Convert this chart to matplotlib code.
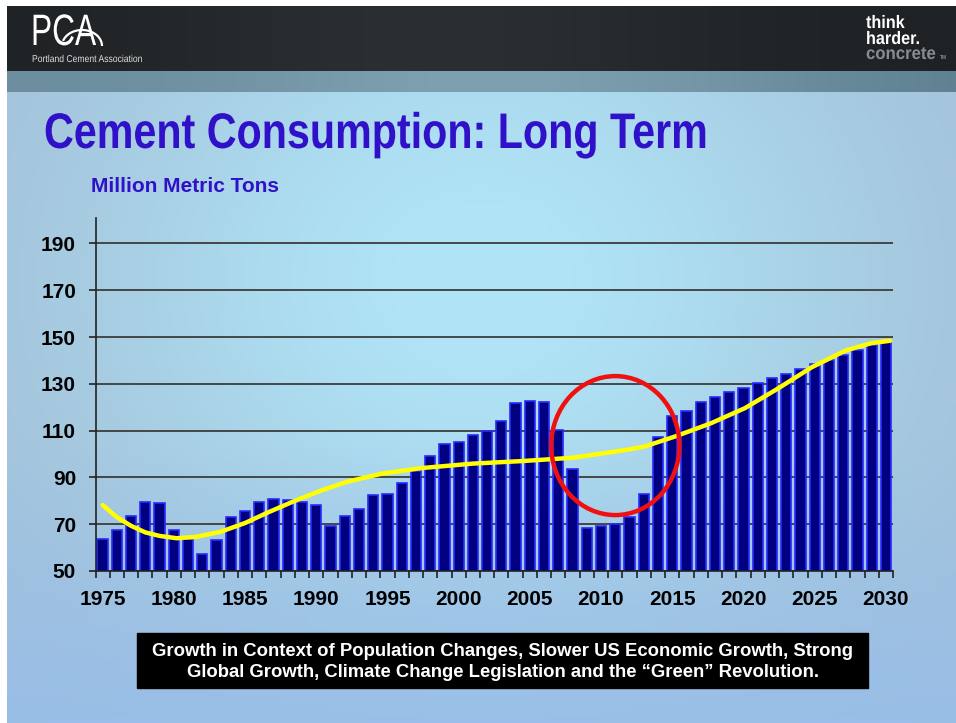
import matplotlib
matplotlib.use('Agg')
import matplotlib.pyplot as plt
import numpy as np
from matplotlib.patches import Ellipse, Rectangle, Arc, PathPatch
from matplotlib.textpath import TextPath
from matplotlib.font_manager import FontProperties
from matplotlib.transforms import Affine2D

# --- data: cement consumption, million metric tons ---
years = list(range(1975, 2031))
consumption = [63.6, 67.4, 73.4, 79.3, 79.0, 67.4, 63.6, 57.1, 63.1, 73.1,
               75.7, 79.6, 80.7, 80.4, 79.3, 78.0, 69.3, 73.4, 76.6, 82.3,
               82.9, 87.6, 92.9, 99.3, 104.3, 105.3, 108.1, 109.7, 113.9, 121.7,
               122.7, 122.1, 110.4, 93.7, 68.4, 69.1, 70.0, 73.1, 83.1, 107.1,
               116.1, 118.3, 122.4, 124.3, 126.3, 128.4, 130.3, 132.3, 134.3, 136.3,
               138.3, 140.3, 142.4, 144.3, 146.4, 148.3]

# long term trend line (yellow)
trend_years = [1975.0, 1976.0, 1977.0, 1978.0, 1979.0, 1980.2, 1981.6, 1983.3, 1985.0,
               1986.6, 1988.5, 1990.4, 1992.2, 1994.6, 1997.4, 2001.0, 2004.5,
               2008.0, 2011.6, 2013.0, 2015.2, 2017.7, 2020.1, 2022.4, 2024.8,
               2027.2, 2029.0, 2030.3]
trend_values = [78.2, 73.0, 69.3, 66.5, 65.0, 64.0, 64.6, 66.8, 70.5,
                75.0, 80.0, 84.5, 88.2, 91.6, 94.0, 95.9, 97.0,
                98.4, 101.6, 103.1, 107.5, 113.1, 119.6, 127.9, 137.1,
                144.3, 147.4, 148.4]

y_ticks = [50, 70, 90, 110, 130, 150, 170, 190]
x_labels = [1975, 1980, 1985, 1990, 1995, 2000, 2005, 2010, 2015, 2020, 2025, 2030]

# highlighted recession area (red ellipse), centre year/value and size
circle_center = (2011.0, 103.6)
circle_size = (9.0, 59.4)

title = 'Cement Consumption: Long Term'
unit_label = 'Million Metric Tons'
note = ('Growth in Context of Population Changes, Slower US Economic Growth, Strong\n'
        'Global Growth, Climate Change Legislation and the \u201cGreen\u201d Revolution.')

W, H = 956, 723
fig = plt.figure(figsize=(W / 100, H / 100), dpi=100, facecolor='white')

# background axes in pixel coordinates
bg = fig.add_axes([0, 0, 1, 1])
bg.set_xlim(0, W)
bg.set_ylim(H, 0)
bg.axis('off')

xx, yy = np.meshgrid(np.linspace(0, 1, 240), np.linspace(0, 1, 180))
c_center = np.array([176, 229, 247]) / 255
c_edge = np.array([162, 190, 214]) / 255
c_bottom = np.array([150, 190, 236]) / 255
w = np.exp(-((xx - 0.5) / 0.42) ** 2 - ((yy - 0.3) / 0.55) ** 2)[..., None]
img = c_edge * (1 - w) + c_center * w
b = (np.clip((yy - 0.55) / 0.45, 0, 1) * 0.75)[..., None]
img = img * (1 - b) + c_bottom * b
bg.imshow(img, extent=[7, W, H, 92], aspect='auto', zorder=0)

# header bars
hx = np.linspace(0, 1, 300)
dark = np.array([30, 34, 37]) / 255 + 0.05 * np.exp(-((hx - 0.45) / 0.3) ** 2)[:, None]
bg.imshow(dark[None, :, :], extent=[7, W, 71, 6], aspect='auto', zorder=0)
band = (np.array([108, 142, 158]) / 255 + 0.07 * np.exp(-((hx - 0.5) / 0.25) ** 2)[:, None]
        - 0.05 * np.clip((hx - 0.75) / 0.25, 0, 1)[:, None])
bg.imshow(np.clip(band, 0, 1)[None, :, :], extent=[7, W, 92, 71], aspect='auto', zorder=0)


def squeezed_text(x, y, s, size, sx, color, weight='bold'):
    # condensed text: glyph outline scaled horizontally
    tp = TextPath((0, 0), s, size=size,
                  prop=FontProperties(family='Liberation Sans', weight=weight))
    tr = Affine2D().scale(sx, -1).translate(x, y) + bg.transData
    bg.add_patch(PathPatch(tp, transform=tr, facecolor=color, edgecolor='none', zorder=3))


# logos
squeezed_text(31, 45, 'PCA', 44, 0.72, 'white', weight='normal')
bg.add_patch(Arc((82, 46), 40, 32, theta1=195, theta2=360, color='white', lw=1.6, zorder=4))
squeezed_text(32, 62, 'Portland Cement Association', 10, 0.86, '#dddddd', weight='normal')
squeezed_text(866, 28, 'think', 18, 0.9, 'white')
squeezed_text(866, 44, 'harder.', 18, 0.9, 'white')
squeezed_text(866, 59, 'concrete', 18, 0.93, '#8a8d90')
bg.text(940, 59, 'TM', color='#8a8d90', fontsize=3.5, fontweight='bold',
        family='Liberation Sans', va='baseline')

# titles
squeezed_text(44, 148, title, 50, 0.825, '#3010c8')
bg.text(91, 192, unit_label, color='#3010c8', fontsize=15, fontweight='bold',
        family='Liberation Sans', va='baseline')

# bottom note
bg.add_patch(Rectangle((137, 633), 731, 55, color='black', zorder=2))
bg.text(503, 662, note, color='white', fontsize=13.3, fontweight='bold',
        family='Liberation Sans', ha='center', va='center', linespacing=1.35, zorder=3)

# --- chart ---
ax = fig.add_axes([95.5 / W, (H - 571) / H, (893 - 95.5) / W, (571 - 217.7) / H])
ax.patch.set_alpha(0)

ax.bar(years, consumption, width=0.72, color='#000080', edgecolor='#2a2aff',
       linewidth=1.2, zorder=2)
ax.plot(trend_years, trend_values, color='#ffff00', lw=3.2, solid_capstyle='round',
        solid_joinstyle='round', zorder=3)
ax.add_patch(Ellipse(circle_center, circle_size[0], circle_size[1], fill=False,
                     edgecolor='#f01010', lw=3.2, zorder=4))

ax.set_xlim(1974.5, 2030.5)
ax.set_ylim(50, 201)
ax.set_yticks(y_ticks)
ax.set_xticks(x_labels)
ax.set_xticks(np.arange(1974.5, 2031, 1), minor=True)
ax.grid(axis='y', color='#3c3c3c', lw=1.3, zorder=0)
ax.set_axisbelow(True)

for lab in ax.get_xticklabels() + ax.get_yticklabels():
    lab.set_fontfamily('Liberation Sans')
    lab.set_fontweight('bold')
    lab.set_fontsize(15)
ax.tick_params(axis='x', which='major', length=0, pad=14)
ax.tick_params(axis='x', which='minor', length=5, width=1.2, color='#222222')
ax.tick_params(axis='y', length=5, width=1.2, color='#222222', pad=9)

for s in ['top', 'right']:
    ax.spines[s].set_visible(False)
for s in ['left', 'bottom']:
    ax.spines[s].set_color('#222222')
    ax.spines[s].set_linewidth(1.2)

fig.savefig('out.png', dpi=100)
